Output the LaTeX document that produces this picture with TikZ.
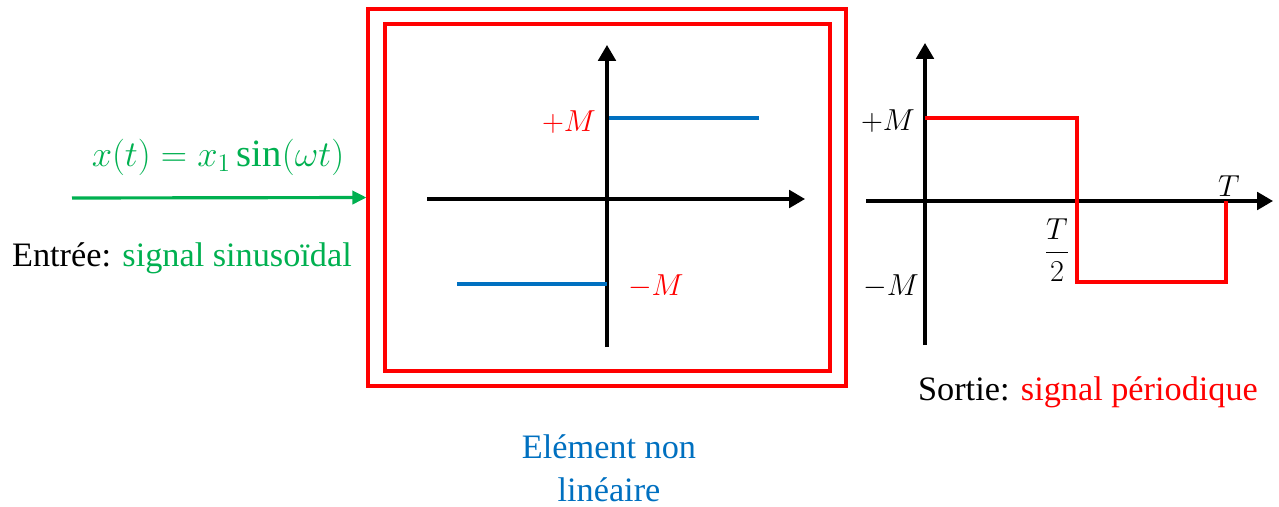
\documentclass[tikz,border=0pt]{standalone}
\usepackage{amsmath}
\usepackage{fontspec}
\setmainfont{Liberation Serif}
\usetikzlibrary{positioning,arrows.meta}
\definecolor{vert}{RGB}{0,176,80}
\definecolor{bleu}{RGB}{0,112,192}
\definecolor{rouge}{RGB}{255,0,0}

\begin{document}
\begin{tikzpicture}[
    x=0.02cm, y=-0.02cm,
    >={Triangle[length=9pt,width=10pt]},
    axe/.style={->, line width=1.8pt},
    cadre/.style={draw=rouge, line width=1.8pt, inner sep=0pt},
    trait/.style={line width=1.8pt},
    lbl/.style={font=\fontsize{17}{21}\selectfont, inner sep=1pt},
    txt/.style={font=\fontsize{19.5}{24.5}\selectfont, inner sep=1pt}
  ]
  \useasboundingbox (0,0) rectangle (1279,507);

  % bloc non lineaire
  \node[cadre, minimum width=9.56cm, minimum height=7.54cm] (bloc) at (607,197.5) {};
  \node[cadre, minimum width=8.9cm, minimum height=6.94cm] (bloci) at (607.5,197.5) {};

  % entree
  \coordinate (e0) at (72,198);
  \draw[vert, line width=1.8pt, -{Triangle[length=8pt,width=7.5pt]}] (e0) -- (bloc.west);
  \node[lbl, text=vert, font=\fontsize{22}{26}\selectfont] (xt) at (218,157) {$x(t) = x_1 \sin(\omega t)$};
  \node[txt] (entree) at (182,258) {Entrée: \textcolor{vert}{signal sinusoïdal}};

  % caracteristique
  \coordinate (g1) at (427,199);
  \coordinate (d1) at (805,199);
  \coordinate (b1) at (607,347);
  \coordinate (h1) at (607,45);
  \draw[axe] (g1) -- (d1);
  \draw[axe] (b1) -- (h1);
  \coordinate (p1) at (609,118);
  \coordinate (p2) at (759,118);
  \coordinate (m1) at (457,284);
  \coordinate (m2) at (607,284);
  \draw[trait, bleu] (p1) -- (p2);
  \draw[trait, bleu] (m1) -- (m2);
  \node[lbl, text=rouge, anchor=east] (pM) at (598,122) {$+M$};
  \node[lbl, text=rouge, anchor=west] (mM) at (626,286) {$-M$};
  \node[txt, text=bleu, align=center] (nom) at (609,468) {Elément non\\linéaire};

  % sortie
  \coordinate (g2) at (866,201);
  \coordinate (d2) at (1273,201);
  \coordinate (b2) at (925,345);
  \coordinate (h2) at (925,43);
  \draw[axe] (g2) -- (d2);
  \draw[axe] (b2) -- (h2);
  \coordinate (s0) at (925,118);
  \coordinate (s1) at (1077,118);
  \coordinate (s2) at (1077,282);
  \coordinate (s3) at (1226,282);
  \coordinate (s4) at (1226,201);
  \draw[trait, rouge] (s0) -- (s1) -- (s2) -- (s3) -- (s4);
  \node[lbl, anchor=east] (pM2) at (917,121) {$+M$};
  \node[lbl, anchor=east] (mM2) at (921,286) {$-M$};
  \node[lbl] (tT) at (1229,186) {$T$};
  \node[lbl] (tT2) at (1057,250) {$\dfrac{T}{2}$};
  \node[txt] (sortie) at (1088,392) {Sortie: \textcolor{rouge}{signal périodique}};

\end{tikzpicture}
\end{document}
